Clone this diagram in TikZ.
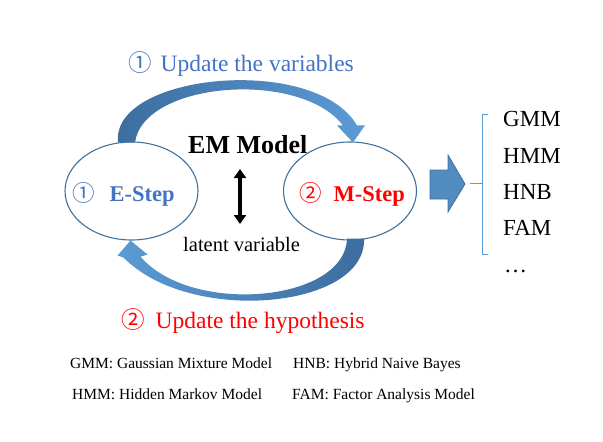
\documentclass[tikz,border=0pt]{standalone}
\usepackage{fontspec}
\setmainfont{Liberation Serif}
\newfontfamily\cjkfont{Noto Sans CJK SC}
\usetikzlibrary{arrows.meta, positioning, calc, shapes.geometric}
\definecolor{StepBlue}{RGB}{68,114,196}
\definecolor{EdgeBlue}{RGB}{65,113,156}
\definecolor{ArrowDark}{RGB}{60,108,158}
\definecolor{ArrowLight}{RGB}{91,155,213}
\definecolor{BraceBlue}{RGB}{91,155,213}
\newcommand{\fsz}[1]{\fontsize{#1}{#1}\selectfont}

\begin{document}
\begin{tikzpicture}[x=1pt, y=-1pt,
    txt/.style={inner sep=0pt, anchor=base west},
    stepshape/.style={ellipse, draw=EdgeBlue, line width=1.1pt, minimum width=133pt, minimum height=98pt, inner sep=0pt},
    model/.style={txt, font=\fsz{23}}]
    \useasboundingbox (0,0) rectangle (603,442);

    % Steps
    \node[stepshape] (estep) at (131.5,191) {};
    \node[stepshape] (mstep) at (350,191) {};
    \node[txt, font=\fsz{22.5}\bfseries, text=StepBlue] (elabel) at (72,201.5) {{\cjkfont\mdseries ①}\hspace{15pt}E-Step};
    \node[txt, font=\fsz{22.5}\bfseries, text=red] (mlabel) at (299,201.5) {{\cjkfont\mdseries ②}\hspace{12pt}M-Step};

    % Middle
    \node[txt, font=\fsz{26}\bfseries] (title) at (188,153) {EM Model};
    \node[txt, font=\fsz{20.5}] (latent) at (183,251.5) {latent variable};
    \coordinate (up) at (240,169);
    \coordinate (dn) at (240,224);
    \draw[line width=3.5pt, {Triangle[width=12pt,length=9pt]}-{Triangle[width=12pt,length=9pt]}] (up) -- (dn);

    % Update arrows
    \node[txt, font=\fsz{23.5}, text=StepBlue] (upvar) at (128,71.5) {{\cjkfont ①}\hspace{9pt}Update the variables};
    \node[txt, font=\fsz{23.5}, text=red] (uphyp) at (121,328) {{\cjkfont ②}\hspace{11pt}Update the hypothesis};
    \shade[left color=ArrowDark, right color=ArrowLight]
        ($(estep.north)+(-13.5,1)$) .. controls ($(estep.north)+(-21,-68)$) and ($(mstep.north)+(-35,-88)$)
        .. ($(mstep.north)+(7,-16)$) -- ($(mstep.north)+(15,-16)$) -- ($(mstep.north)+(3,1)$)
        -- ($(mstep.north)+(-13,-16)$) -- ($(mstep.north)+(-7,-16)$)
        .. controls ($(mstep.north)+(-50,-72)$) and ($(estep.north)+(12,-60)$) .. ($(estep.north)+(3.5,1)$) -- cycle;
    \shade[left color=ArrowLight, right color=ArrowDark]
        ($(mstep.south)+(14,-2)$) .. controls ($(mstep.south)+(17,68)$) and ($(estep.south)+(59,85)$)
        .. ($(estep.south)+(-8,17)$) -- ($(estep.south)+(-14,15)$) -- ($(estep.south)+(-1,0)$)
        -- ($(estep.south)+(16,14)$) -- ($(estep.south)+(9,16)$)
        .. controls ($(estep.south)+(59,75)$) and ($(mstep.south)+(-5,62)$) .. ($(mstep.south)+(-3,-2)$) -- cycle;

    % Output
    \coordinate (out) at (430,184);
    \draw[fill=ArrowLight!90!black, draw=EdgeBlue, line width=0.8pt]
        ($(out)+(0,-14)$) -- ($(out)+(18,-14)$) -- ($(out)+(18,-29)$) -- ($(out)+(35,0)$)
        -- ($(out)+(18,28)$) -- ($(out)+(18,15)$) -- ($(out)+(0,15)$) -- cycle;
    \coordinate (btop) at (482,114);
    \coordinate (bbot) at (482,254);
    \coordinate (bmid) at (482,183);
    \draw[BraceBlue, line width=1pt] ($(btop)+(6,0)$) -- (btop) -- (bbot) -- ($(bbot)+(6,0)$);
    \draw[BraceBlue, line width=1pt] (bmid) -- ($(bmid)+(-12,0)$);
    \node[model] (gmm) at (503,126.5) {GMM};
    \node[model] (hmm) at (503,163) {HMM};
    \node[model] (hnb) at (503,199.5) {HNB};
    \node[model] (fam) at (503,235.5) {FAM};
    \node[model] (more) at (504,272) {…};

    % Legend
    \node[txt, font=\fsz{15.5}] (lgmm) at (70,368) {GMM: Gaussian Mixture Model};
    \node[txt, font=\fsz{15.5}] (lhmm) at (72,399) {HMM: Hidden Markov Model};
    \node[txt, font=\fsz{15.5}] (lhnb) at (293,368) {HNB: Hybrid Naive Bayes};
    \node[txt, font=\fsz{15.5}] (lfam) at (292,399) {FAM: Factor Analysis Model};
\end{tikzpicture}
\end{document}
